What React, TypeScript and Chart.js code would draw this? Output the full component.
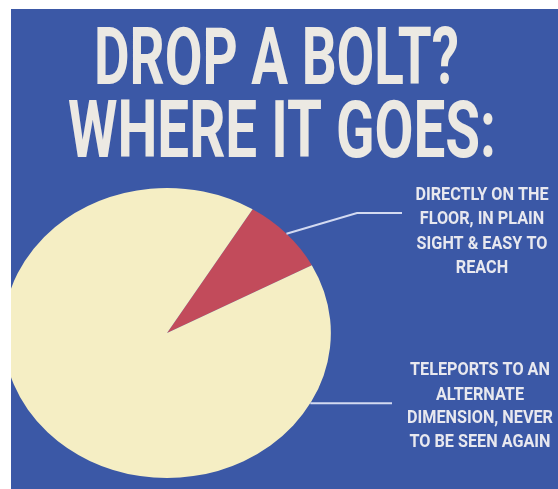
import React, { useEffect, useRef } from 'react';
import { Chart, registerables } from 'chart.js';

Chart.register(...registerables);

// ---- data ----
const categories = [
  'DIRECTLY ON THE FLOOR, IN PLAIN SIGHT & EASY TO REACH',
  'TELEPORTS TO AN ALTERNATE DIMENSION, NEVER TO BE SEEN AGAIN',
];
const values = [8.5, 91.5];
const sliceColors = ['#c24b5b', '#f5eec4'];
const titleLines = ['DROP A BOLT?', 'WHERE IT GOES:'];
const labelLines = [
  ['DIRECTLY ON THE', 'FLOOR, IN PLAIN', 'SIGHT & EASY TO', 'REACH'],
  ['TELEPORTS TO AN', 'ALTERNATE', 'DIMENSION, NEVER', 'TO BE SEEN AGAIN'],
];
const startRotation = 31.5;

// ---- style ----
const BG = '#3b58a6';
const TITLE_COLOR = '#ece9e3';
const LABEL_COLOR = '#e8e8ef';
const LINE_COLOR = '#d3daf1';
const STRETCH = 1.13;
const W = 547;
const H = 480;

function drawCondensed(ctx: CanvasRenderingContext2D, text: string, cx: number, y: number, sx: number) {
  ctx.save();
  ctx.translate(cx, y);
  ctx.scale(sx, 1);
  ctx.textAlign = 'center';
  ctx.fillText(text, 0, 0);
  ctx.restore();
}

const bgPlugin = {
  id: 'bgPlugin',
  beforeDraw(chart: any) {
    const ctx = chart.ctx;
    ctx.save();
    ctx.fillStyle = BG;
    ctx.fillRect(0, 0, chart.width, chart.height);
    ctx.restore();
  },
};

const ellipsePlugin = {
  id: 'ellipsePlugin',
  beforeDatasetsDraw(chart: any) {
    const arc = chart.getDatasetMeta(0).data[0];
    const ctx = chart.ctx;
    ctx.save();
    ctx.translate(arc.x, arc.y);
    ctx.scale(STRETCH, 1);
    ctx.translate(-arc.x, -arc.y);
  },
  afterDatasetsDraw(chart: any) {
    chart.ctx.restore();
  },
};

const annotPlugin = {
  id: 'annotPlugin',
  afterDraw(chart: any) {
    const ctx: CanvasRenderingContext2D = chart.ctx;
    const meta = chart.getDatasetMeta(0);
    const red = meta.data[0];
    const cx = red.x;
    const cy = red.y;
    const r = red.outerRadius;

    // Title
    ctx.save();
    ctx.fillStyle = TITLE_COLOR;
    ctx.font = '700 79px Roboto';
    ctx.textBaseline = 'alphabetic';
    const t1 = ctx.measureText(titleLines[0]).width;
    const t2 = ctx.measureText(titleLines[1]).width;
    drawCondensed(ctx, titleLines[0], 265.5, 75, 365 / t1);
    drawCondensed(ctx, titleLines[1], 271, 148, 428 / t2);
    ctx.restore();

    // Labels
    ctx.save();
    ctx.fillStyle = LABEL_COLOR;
    ctx.font = '700 18px Roboto';
    ctx.textBaseline = 'middle';
    const ref = ctx.measureText(labelLines[1][2]).width;
    const sx = 146 / ref;
    const l1y = [186, 210, 235, 259];
    const l2y = [361, 386, 409, 433];
    labelLines[0].forEach((s, i) => drawCondensed(ctx, s, 471, l1y[i], sx));
    labelLines[1].forEach((s, i) => drawCondensed(ctx, s, 469, l2y[i], sx));
    ctx.restore();

    // Leader lines
    const mid = (red.startAngle + red.endAngle) / 2;
    const p1x = cx + STRETCH * r * Math.cos(mid);
    const p1y = cy + r * Math.sin(mid);
    const a2 = (29 * Math.PI) / 180;
    const p2x = cx + STRETCH * r * Math.cos(a2);
    const p2y = cy + r * Math.sin(a2);

    ctx.save();
    ctx.strokeStyle = LINE_COLOR;
    ctx.lineWidth = 2;
    ctx.beginPath();
    ctx.moveTo(p1x, p1y);
    ctx.lineTo(346, 204);
    ctx.lineTo(391, 204);
    ctx.stroke();
    ctx.beginPath();
    ctx.moveTo(p2x, p2y);
    ctx.lineTo(381, p2y);
    ctx.stroke();
    ctx.restore();
  },
};

export default function App() {
  const ref = useRef<HTMLCanvasElement | null>(null);
  useEffect(() => {
    if (!ref.current) return;
    const chart = new Chart(ref.current, {
      type: 'pie',
      data: {
        labels: categories,
        datasets: [
          {
            data: values,
            backgroundColor: sliceColors,
            borderWidth: 0,
            clip: false as any,
          },
        ],
      },
      options: {
        responsive: false,
        animation: false,
        devicePixelRatio: 1,
        rotation: startRotation,
        layout: { padding: { top: 179, bottom: 11, left: 11, right: 246 } },
        plugins: {
          legend: { display: false },
          tooltip: { enabled: false },
          title: { display: false },
        },
        events: [],
      },
      plugins: [bgPlugin, ellipsePlugin, annotPlugin],
    });
    return () => chart.destroy();
  }, []);
  return (
    <div style={{ position: 'absolute', left: 11, top: 9, width: W, height: H }}>
      <canvas ref={ref} width={W} height={H} style={{ display: 'block', width: W, height: H }} />
    </div>
  );
}
